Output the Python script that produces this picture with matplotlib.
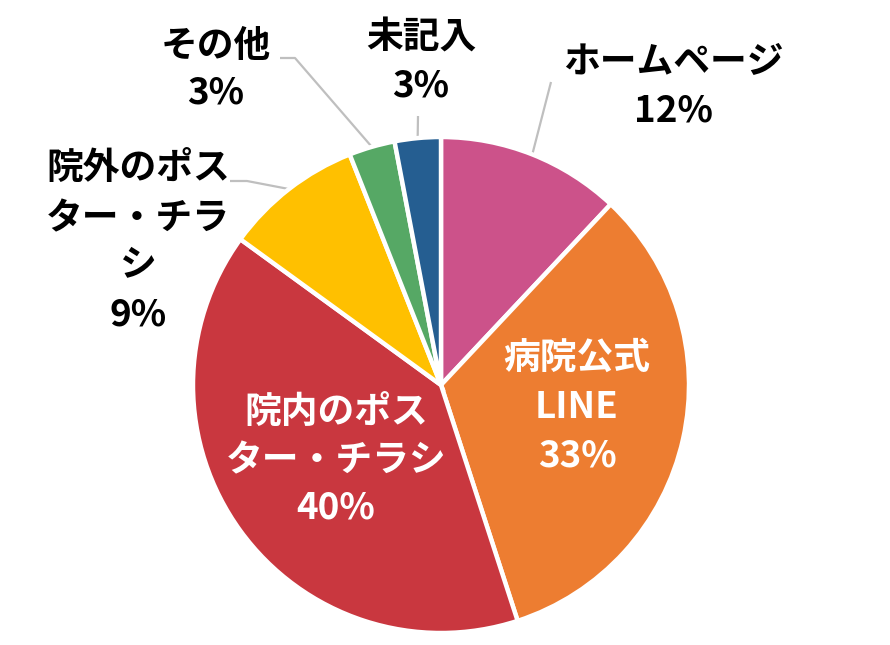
import numpy as np
import matplotlib
matplotlib.use("Agg")
import matplotlib.pyplot as plt

plt.rcParams['font.family'] = ['Noto Sans CJK JP', 'DejaVu Sans']

# ---- data ----
categories = ["ホームページ", "病院公式LINE", "院内のポスター・チラシ",
              "院外のポスター・チラシ", "その他", "未記入"]
values = [12, 33, 40, 9, 3, 3]
pct_labels = ["12%", "33%", "40%", "9%", "3%", "3%"]
colors = ["#CC528A", "#ED7D31", "#C9373F", "#FFC000", "#56A865", "#255E91"]

# label text lines (as shown in the chart)
label_lines = [
    ["ホームページ", "12%"],
    ["病院公式", "LINE", "33%"],
    ["院内のポス", "ター・チラシ", "40%"],
    ["院外のポス", "ター・チラ", "シ", "9%"],
    ["その他", "3%"],
    ["未記入", "3%"],
]

# ---- layout (pixels) ----
W, H = 890, 645
CX, CY, R = 441, 385, 248

fig = plt.figure(figsize=(W / 100, H / 100), dpi=100)
ax = fig.add_axes([(CX - R) / W, (H - CY - R) / H, 2 * R / W, 2 * R / H])

wedges, _ = ax.pie(values, colors=colors, startangle=90, counterclock=False,
                   wedgeprops=dict(edgecolor="white", linewidth=3.2))
ax.set_xlim(-1, 1)
ax.set_ylim(-1, 1)
ax.set_aspect('equal')


def P(px, py):
    return ((px - CX) / R, (CY - py) / R)


# label line centers (px) and style
label_pos = [
    (673, [63, 111]),
    (577, [358, 407, 456]),
    (336, [412, 461, 508]),
    (138, [169, 219, 266, 315]),
    (216, [47, 93]),
    (421, [38, 86]),
]
inside = [False, True, True, False, False, False]

for i, lines in enumerate(label_lines):
    x, ys = label_pos[i]
    for line, y in zip(lines, ys):
        tx, ty = P(x, y)
        ax.text(tx, ty, line, ha='center', va='center', fontsize=26.5,
                color='white' if inside[i] else 'black',
                fontweight='bold')

# leader lines: label-side points (px), ending on the wedge's mid angle
leader_start = {
    0: [(551, 82)],
    3: [(230, 181), (247, 181)],
    4: [(280, 58), (295, 58)],
    5: [(418, 116)],
}
for i, pts in leader_start.items():
    w = wedges[i]
    mid = np.deg2rad((w.theta1 + w.theta2) / 2)
    ex, ey = np.cos(mid) * 1.0, np.sin(mid) * 1.0
    xs = [P(*p)[0] for p in pts] + [ex]
    ys = [P(*p)[1] for p in pts] + [ey]
    ax.plot(xs, ys, color="#BFBFBF", linewidth=1.6, clip_on=False,
            solid_capstyle='butt', zorder=0)

fig.savefig("out.png", dpi=100, facecolor="white")
